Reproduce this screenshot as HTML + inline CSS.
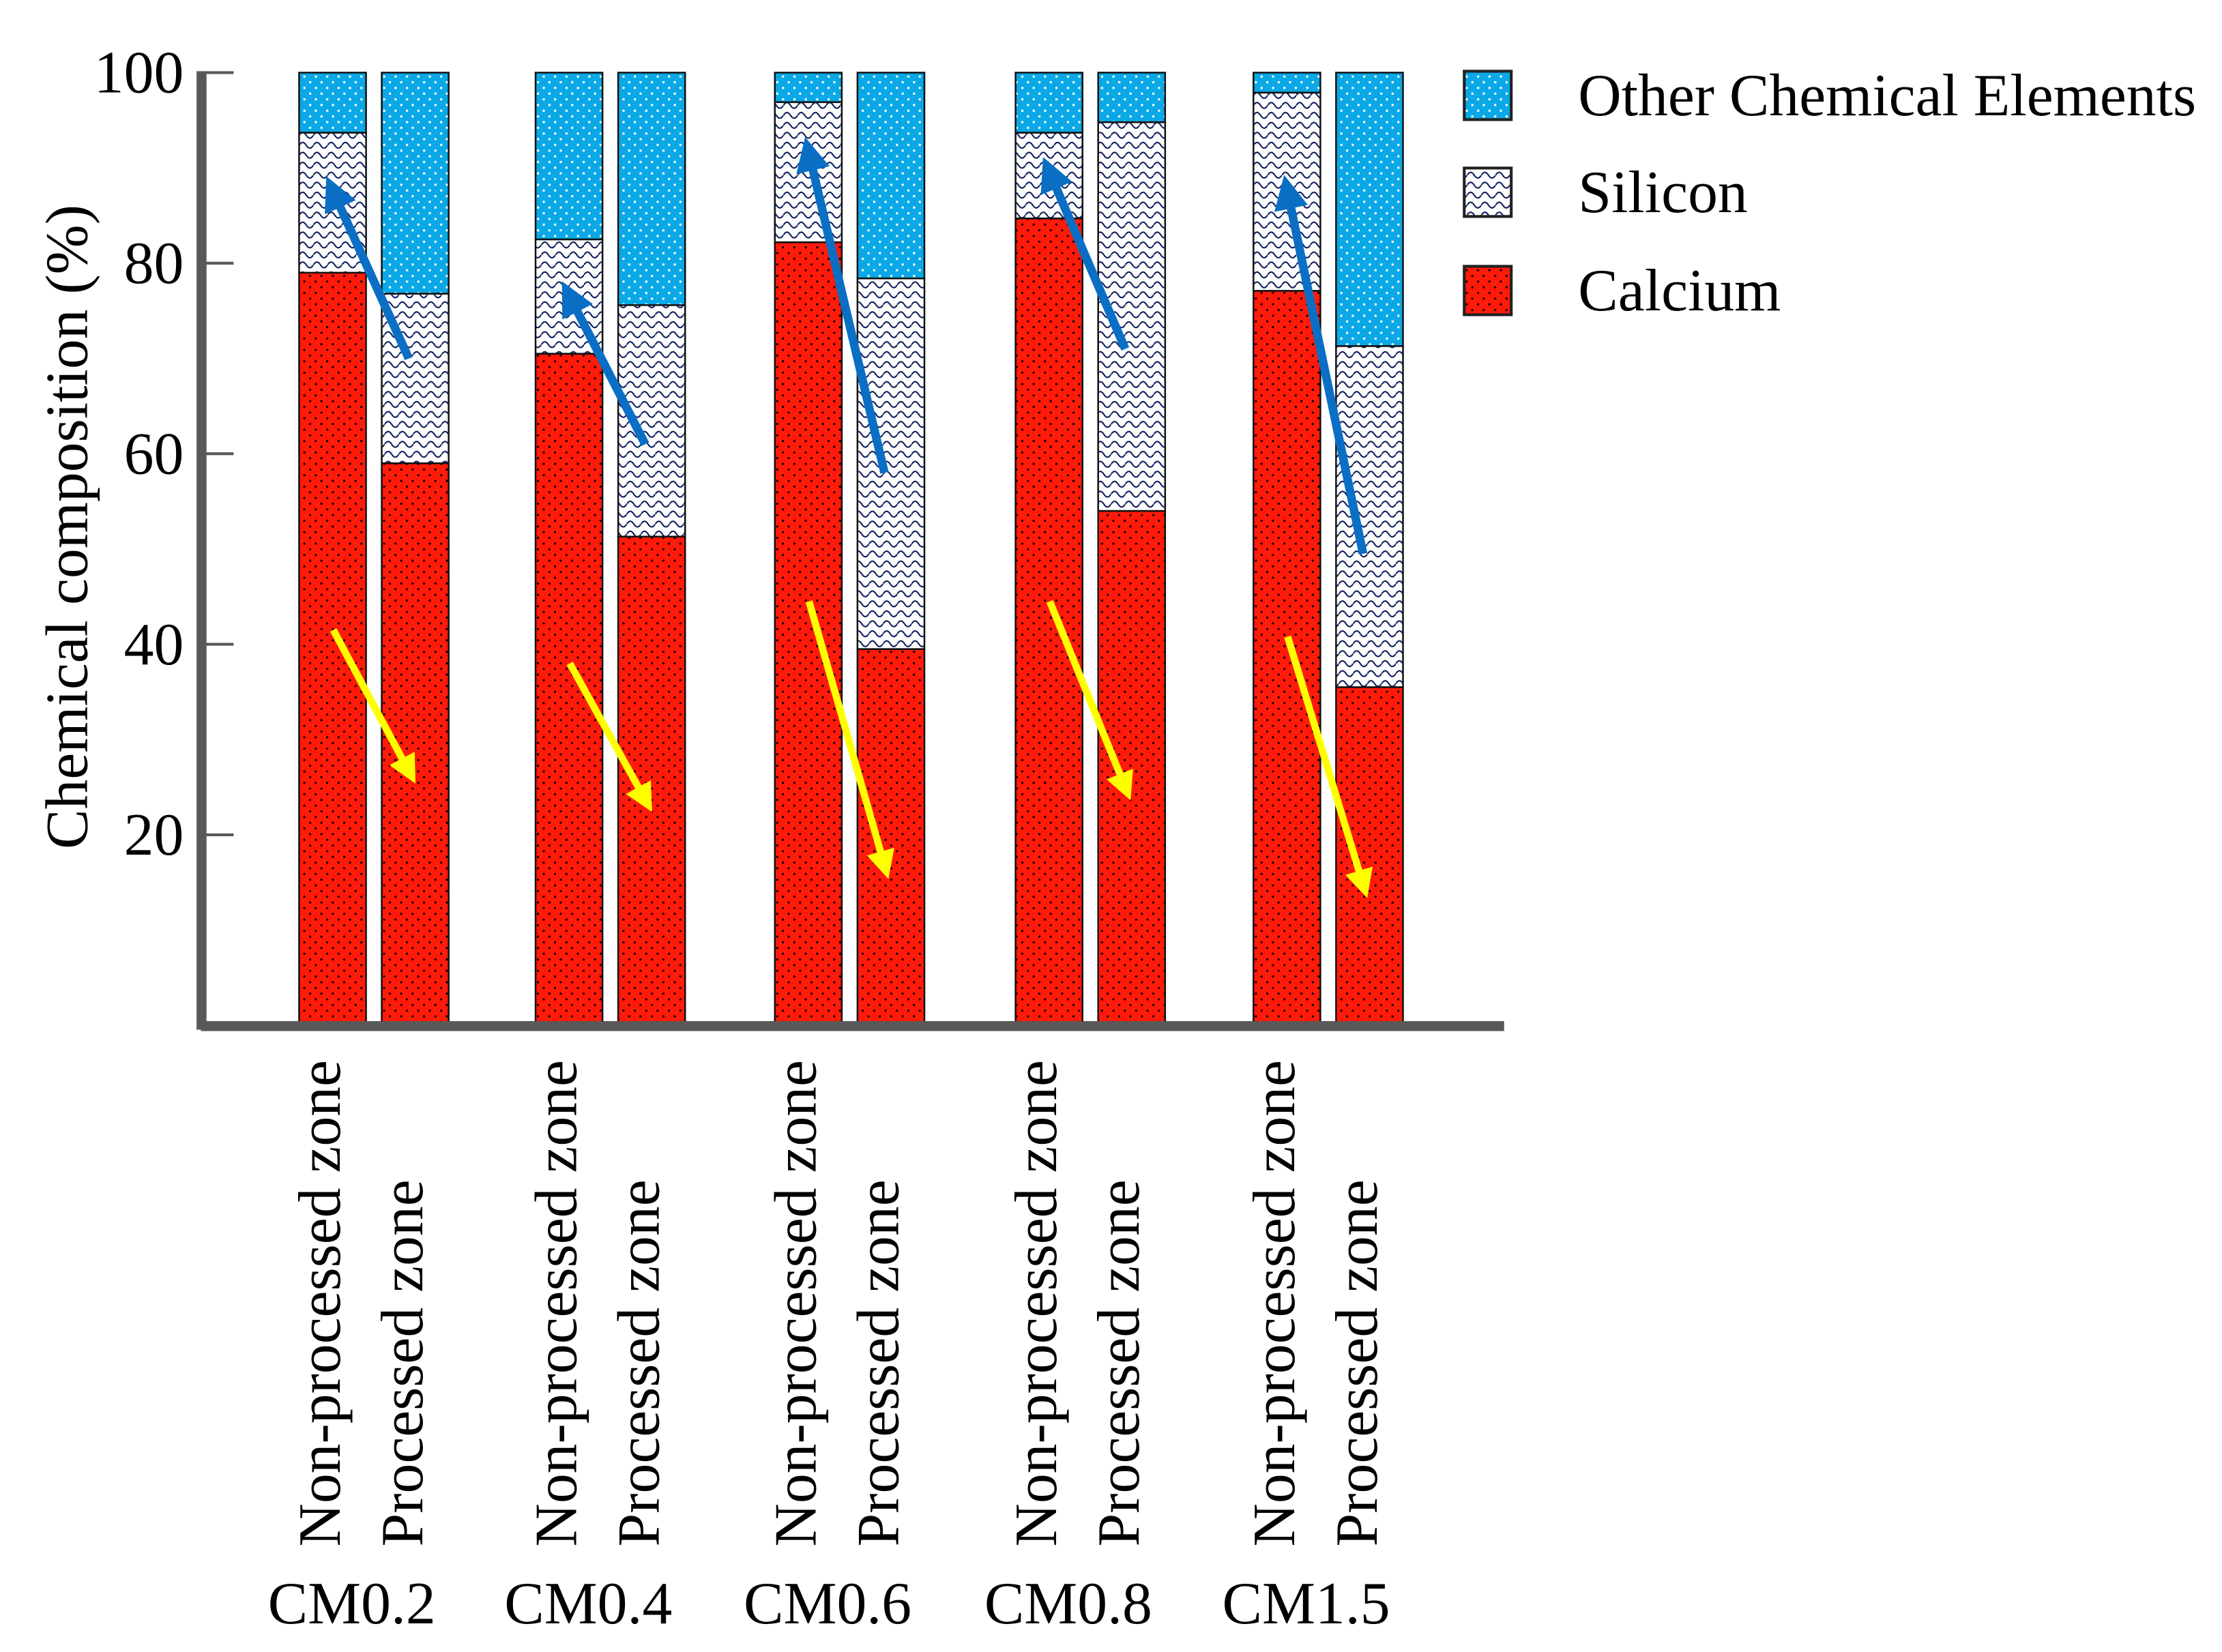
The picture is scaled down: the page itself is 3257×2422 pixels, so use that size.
<!DOCTYPE html>
<html><head><meta charset="utf-8">
<style>html,body{margin:0;padding:0;background:#fff;}svg{display:block;}</style></head>
<body>
<svg id="chart" width="3257" height="2422" viewBox="0 0 1560 1160" preserveAspectRatio="none" xmlns="http://www.w3.org/2000/svg" font-family="'Liberation Serif', serif">
<defs>
<pattern id="pRed" width="8" height="8" patternUnits="userSpaceOnUse"><rect width="8" height="8" fill="#ff1a0a"/><rect x="1" y="1" width="1.4" height="1.4" fill="#000"/><rect x="5" y="5" width="1.4" height="1.4" fill="#000"/></pattern>
<pattern id="pBlue" width="8" height="8" patternUnits="userSpaceOnUse"><rect width="8" height="8" fill="#0aa8e6"/><rect x="1" y="1" width="1.5" height="1.5" fill="#fff"/><rect x="5" y="5" width="1.5" height="1.5" fill="#fff"/></pattern>
<pattern id="pSi" width="10" height="7" patternUnits="userSpaceOnUse"><rect width="10" height="7" fill="#fff"/><path d="M0 4 Q2.5 0 5 4 T10 4" fill="none" stroke="#0a1a5a" stroke-width="1"/></pattern>
<marker id="ahB" markerWidth="4" markerHeight="4" refX="2" refY="2" orient="auto" markerUnits="strokeWidth"><path d="M0,0 L4,2 L0,4 z" fill="#0a6fc4"/></marker>
<marker id="ahY" markerWidth="4" markerHeight="4" refX="2" refY="2" orient="auto" markerUnits="strokeWidth"><path d="M0,0 L4,2 L0,4 z" fill="#ffff00"/></marker>
</defs>
<g id="plot"></g>
</svg>
<script>
const groups = ["CM0.2","CM0.4","CM0.6","CM0.8","CM1.5"];
const zones = ["Non-processed zone","Processed zone"];
const calcium = [[79,59],[70.5,51.3],[82.2,39.5],[84.7,54],[77.1,35.5]];
const silicon = [[14.7,17.8],[12,24.3],[14.7,38.9],[9,40.8],[20.8,35.8]];
const yTicks = [20,40,60,80,100];
const blueArrows = [[70,87.5],[61,76.5],[58,91.5],[71,89.5],[49.5,87.5]];
const yellowArrows = [[41.5,26.7],[38,23.7],[44.5,16.8],[44.5,25],[40.8,14.8]];

const NS = "http://www.w3.org/2000/svg";
const plot = document.getElementById('plot');
const y0 = 720, y100 = 51;
function yS(v){ return y0 - (y0 - y100) * v / 100; }
const groupStart = [210, 376, 544, 713, 880];
function xBar(g, z){ return groupStart[g] + z * 58; }
const bw = 47;
function el(tag, attrs){ const e = document.createElementNS(NS, tag); for (const k in attrs) e.setAttribute(k, attrs[k]); plot.appendChild(e); return e; }

groups.forEach((gname, g) => {
  zones.forEach((zn, z) => {
    const x = xBar(g, z);
    const ca = calcium[g][z], si = silicon[g][z];
    let r = el('rect', {x: x, y: yS(ca), width: bw, height: yS(0) - yS(ca), fill: 'url(#pRed)', stroke: '#111', 'stroke-width': 1.2});
    
    
    r = el('rect', {x: x, y: yS(ca + si), width: bw, height: yS(ca) - yS(ca + si), fill: 'url(#pSi)', stroke: '#111', 'stroke-width': 1.2});
    
    
    r = el('rect', {x: x, y: yS(100), width: bw, height: yS(ca + si) - yS(100), fill: 'url(#pBlue)', stroke: '#111', 'stroke-width': 1.2});
    
    
    const t = el('text', {x: 0, y: 0, 'font-size': 42, 'text-anchor': 'start', transform: 'translate(' + (x + bw/2 + 5) + ',1086) rotate(-90)'});
    t.textContent = zn;
    
    
  });
  const c = el('text', {x: xBar(g,0) + 37, y: 1140, 'font-size': 42, 'text-anchor': 'middle'});
  c.textContent = gname;
  
  
  const ax1 = xBar(g,0) + 24, ax2 = xBar(g,1) + 19;
  const ba = el('line', {x1: ax2, y1: yS(blueArrows[g][0]), x2: ax1, y2: yS(blueArrows[g][1]), stroke: '#0a6fc4', 'stroke-width': 6, 'marker-end': 'url(#ahB)'});
  
  
  const ya = el('line', {x1: ax1, y1: yS(yellowArrows[g][0]), x2: ax2, y2: yS(yellowArrows[g][1]), stroke: '#ffff00', 'stroke-width': 5, 'marker-end': 'url(#ahY)'});
  
  
});

let a = el('rect', {x: 138, y: 50, width: 7, height: 673, fill: '#595959'});


a = el('rect', {x: 141, y: 717, width: 915, height: 7, fill: '#595959'});


yTicks.forEach(v => {
  const tk = el('rect', {x: 144, y: yS(v) - 1, width: 20, height: 2, fill: '#595959'});
  
  
  const tl = el('text', {x: 129, y: yS(v) + 14, 'font-size': 42, 'text-anchor': 'end'});
  tl.textContent = v;
  
  
});
const yt = el('text', {x: 0, y: 0, 'font-size': 42, 'text-anchor': 'middle', transform: 'translate(61,370) rotate(-90)'});
yt.textContent = 'Chemical composition (%)';



const legendNames = ["Other Chemical Elements","Silicon","Calcium"];
const legendFills = ["url(#pBlue)","url(#pSi)","url(#pRed)"];
const legendY = [50, 118, 187];
legendNames.forEach((n, i) => {
  const r = el('rect', {x: 1028, y: legendY[i], width: 33, height: 34, fill: legendFills[i], stroke: '#222', 'stroke-width': 2});
  
  
  const t = el('text', {x: 1108, y: legendY[i] + 31, 'font-size': 42});
  t.textContent = n;
  
  
});
</script>
</body></html>
